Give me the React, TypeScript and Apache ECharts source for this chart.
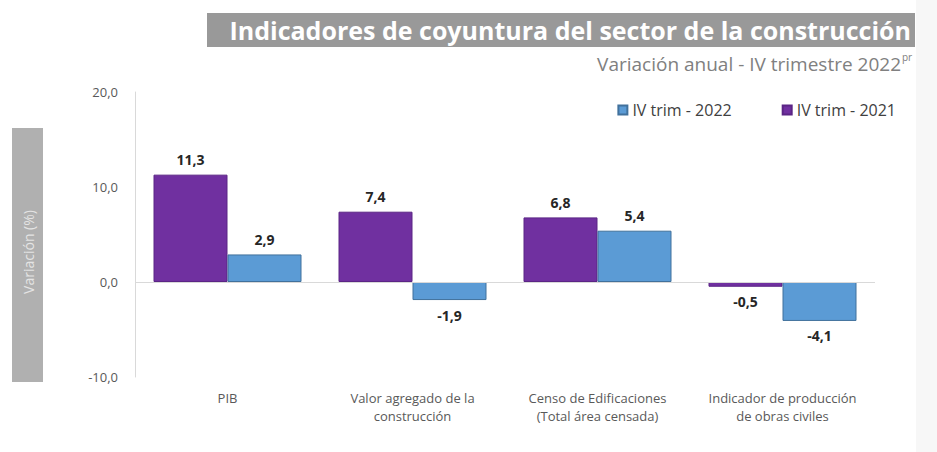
import React, { useEffect, useRef } from "react";
import * as echarts from "echarts";

const categories = [
  "PIB",
  "Valor agregado de la\nconstrucción",
  "Censo de Edificaciones\n(Total área censada)",
  "Indicador de producción\nde obras civiles",
];
const series2021 = [11.3, 7.4, 6.8, -0.5];
const series2022 = [2.9, -1.9, 5.4, -4.1];
const seriesNames = ["IV trim - 2021", "IV trim - 2022"];
const legendOrder = ["IV trim - 2022", "IV trim - 2021"];
const titleText = "Indicadores de coyuntura del sector de la construcción";
const subtitleText = "Variación anual - IV trimestre 2022";
const yAxisTitle = "Variación (%)";

const fmt = (v: number) => v.toFixed(1).replace(".", ",");
const FONT = "'Open Sans', 'Noto Sans', sans-serif";

export default function App() {
  const ref = useRef<HTMLDivElement>(null);
  useEffect(() => {
    if (!ref.current) return;
    const chart = echarts.init(ref.current, null, { renderer: "svg" });
    const label = {
      show: true,
      position: "outside" as any,
      formatter: (p: any) => fmt(p.value),
      fontFamily: FONT,
      fontWeight: "bold" as any,
      fontSize: 14,
      color: "#262626",
      distance: 8,
    };
    chart.setOption({
      animation: false,
      backgroundColor: "#ffffff",
      textStyle: { fontFamily: FONT },
      grid: { left: 135, right: 62, top: 92, bottom: 75 },
      legend: {
        data: legendOrder,
        right: 36,
        top: 97,
        icon: "rect",
        itemWidth: 9,
        itemHeight: 9,
        itemGap: 50,
        textStyle: { fontFamily: FONT, fontSize: 16, color: "#404040" },
      },
      graphic: [
        {
          type: "rect",
          shape: { x: 207, y: 13, width: 708, height: 34 },
          style: { fill: "#999999" },
        },
        {
          type: "text",
          x: 911,
          y: 30,
          style: {
            text: titleText,
            fill: "#ffffff",
            font: `bold 25px ${FONT}`,
            align: "right",
            verticalAlign: "middle",
          },
        },
        {
          type: "text",
          x: 901,
          y: 64,
          style: {
            text: subtitleText,
            fill: "#808080",
            font: `19px ${FONT}`,
            align: "right",
            verticalAlign: "middle",
          },
        },
        {
          type: "text",
          x: 902,
          y: 57,
          style: {
            text: "pr",
            fill: "#808080",
            font: `10px ${FONT}`,
            align: "left",
            verticalAlign: "middle",
          },
        },
        {
          type: "rect",
          shape: { x: 12, y: 128, width: 31, height: 254 },
          style: { fill: "#b0b0b0" },
        },
        {
          type: "text",
          x: 28,
          y: 252,
          rotation: Math.PI / 2,
          style: {
            text: yAxisTitle,
            fill: "#e4e4e4",
            font: `14px ${FONT}`,
            align: "center",
            verticalAlign: "middle",
          },
        },
        {
          type: "rect",
          shape: { x: 916, y: 0, width: 21, height: 452 },
          style: { fill: "#f7f7f7" },
        },
      ],
      xAxis: {
        type: "category",
        data: categories,
        axisLine: { show: false },
        axisTick: { show: false },
        axisLabel: {
          fontFamily: FONT,
          fontSize: 13,
          color: "#595959",
          lineHeight: 18,
          margin: 12,
          interval: 0,
        },
      },
      yAxis: {
        type: "value",
        min: -10,
        max: 20,
        interval: 10,
        splitLine: { show: false },
        axisLine: { show: true, lineStyle: { color: "#d9d9d9" } },
        axisTick: { show: false },
        axisLabel: {
          formatter: (v: number) => fmt(v),
          fontFamily: FONT,
          fontSize: 13,
          color: "#595959",
          margin: 17,
        },
      },
      series: [
        {
          name: seriesNames[0],
          type: "bar",
          data: series2021,
          barGap: "0%",
          barCategoryGap: "20%",
          itemStyle: { color: "#7030a0", borderColor: "#5b2585", borderWidth: 1 },
          label,
          markLine: {
            silent: true,
            symbol: "none",
            label: { show: false },
            lineStyle: { color: "#d9d9d9", type: "solid", width: 1 },
            data: [{ yAxis: 0 }],
          },
        },
        {
          name: seriesNames[1],
          type: "bar",
          data: series2022,
          barGap: "0%",
          barCategoryGap: "20%",
          itemStyle: { color: "#5b9bd5", borderColor: "#41719c", borderWidth: 1 },
          label,
        },
      ],
    });
    return () => chart.dispose();
  }, []);
  return (
    <div
      ref={ref}
      style={{ position: "absolute", left: 0, top: 0, width: 937, height: 452 }}
    />
  );
}
